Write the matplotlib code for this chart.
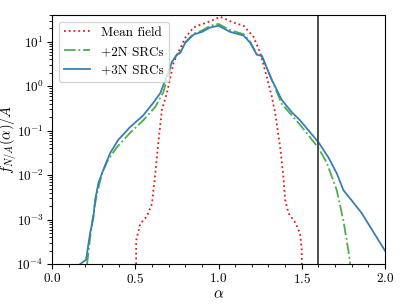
import numpy as np
import matplotlib
matplotlib.use("Agg")
import matplotlib.pyplot as plt
from matplotlib.ticker import AutoMinorLocator, MultipleLocator

plt.rcParams["font.family"] = "serif"
plt.rcParams["font.serif"] = ["cmr10"]
plt.rcParams["mathtext.fontset"] = "cm"
plt.rcParams["axes.formatter.use_mathtext"] = True
plt.rcParams["axes.unicode_minus"] = False

# Mean field
alpha_mf = [0.505, 0.505, 0.53, 0.57, 0.60, 0.62, 0.64, 0.66, 0.69, 0.73, 0.76, 0.80,
            0.85, 0.89, 0.95, 1.01, 1.09, 1.15, 1.21, 1.25, 1.29, 1.32, 1.34, 1.37,
            1.39, 1.40, 1.42, 1.46, 1.49, 1.50, 1.50]
f_mf = [1e-4, 3.4e-4, 8.1e-4, 1.2e-3, 2.3e-3, 1.1e-2, 6.2e-2, 0.30, 0.71, 3.4, 6.0, 12.3,
        20.9, 24.0, 28.8, 36.3, 26.9, 22.9, 12.9, 5.6, 1.6, 0.58, 0.25, 4.3e-2,
        8.9e-3, 2.8e-3, 1.4e-3, 8.7e-4, 4.9e-4, 2.0e-4, 1e-4]

# +2N SRCs
alpha_2n = [0.21, 0.234, 0.248, 0.27, 0.30, 0.336, 0.39, 0.468, 0.547, 0.619, 0.667,
            0.72, 0.75, 0.77, 0.80, 0.85, 0.90, 0.95, 1.00, 1.07, 1.15, 1.19, 1.23,
            1.26, 1.32, 1.38, 1.45, 1.49, 1.60, 1.65, 1.71, 1.75, 1.78, 1.79]
f_2n = [1e-4, 5.8e-4, 1.4e-3, 3.9e-3, 1.1e-2, 2.2e-2, 4.3e-2, 8.9e-2, 0.17, 0.34, 0.71,
        3.5, 5.2, 5.8, 9.8, 15.1, 17.8, 22.9, 25.1, 18.2, 14.8, 10.0, 5.2,
        4.8, 1.38, 0.40, 0.20, 0.135, 4.1e-2, 1.9e-2, 4.6e-3, 9.5e-4, 2.0e-4, 1e-4]

# +3N SRCs
alpha_3n = [0.168, 0.204, 0.228, 0.248, 0.258, 0.278, 0.307, 0.348, 0.397, 0.468,
            0.547, 0.607, 0.65, 0.68, 0.72, 0.75, 0.77, 0.80, 0.85, 0.90, 0.95, 1.00,
            1.07, 1.15, 1.19, 1.23, 1.26, 1.32, 1.38, 1.44, 1.49, 1.60, 1.66, 1.71,
            1.75, 1.80, 1.86, 2.00]
f_3n = [1e-4, 1.26e-4, 4.9e-4, 1.1e-3, 2.7e-3, 6.6e-3, 1.3e-2, 3.1e-2, 6.2e-2, 0.12,
        0.22, 0.42, 0.70, 1.38, 3.5, 5.1, 5.6, 9.5, 14.5, 16.6, 20.9, 22.9,
        16.6, 13.8, 9.5, 5.1, 4.8, 1.38, 0.49, 0.26, 0.17, 5.5e-2, 2.5e-2, 1.1e-2,
        4.6e-3, 2.7e-3, 1.4e-3, 2.0e-4]

alpha_cut = 1.6

fig = plt.figure(figsize=(4.07, 3.05), dpi=100)
ax = fig.add_axes([0.128, 0.134, 0.818, 0.817])

ax.plot(alpha_mf, f_mf, ":", color="#e41a1c", lw=1.3, label="Mean field")
ax.plot(alpha_2n, f_2n, "-.", color="#4daf4a", lw=1.3, label="+2N SRCs")
ax.plot(alpha_3n, f_3n, "-", color="#377eb8", lw=1.3, label="+3N SRCs")
ax.axvline(alpha_cut, color="0.25", lw=1.3)

ax.set_yscale("log")
ax.set_xlim(0, 2)
ax.set_ylim(1e-4, 40)
ax.xaxis.set_major_locator(MultipleLocator(0.5))
ax.xaxis.set_minor_locator(AutoMinorLocator(5))
ax.set_xlabel(r"$\alpha$", fontsize=11, labelpad=1)
ax.set_ylabel(r"$f_{N/A}(\alpha)/A$", fontsize=10.5)
ax.yaxis.set_label_coords(-0.10, 0.5)
ax.tick_params(labelsize=9.5, pad=2.5)
ax.legend(loc="upper left", fontsize=9.5)

fig.savefig("out.png", dpi=100)
